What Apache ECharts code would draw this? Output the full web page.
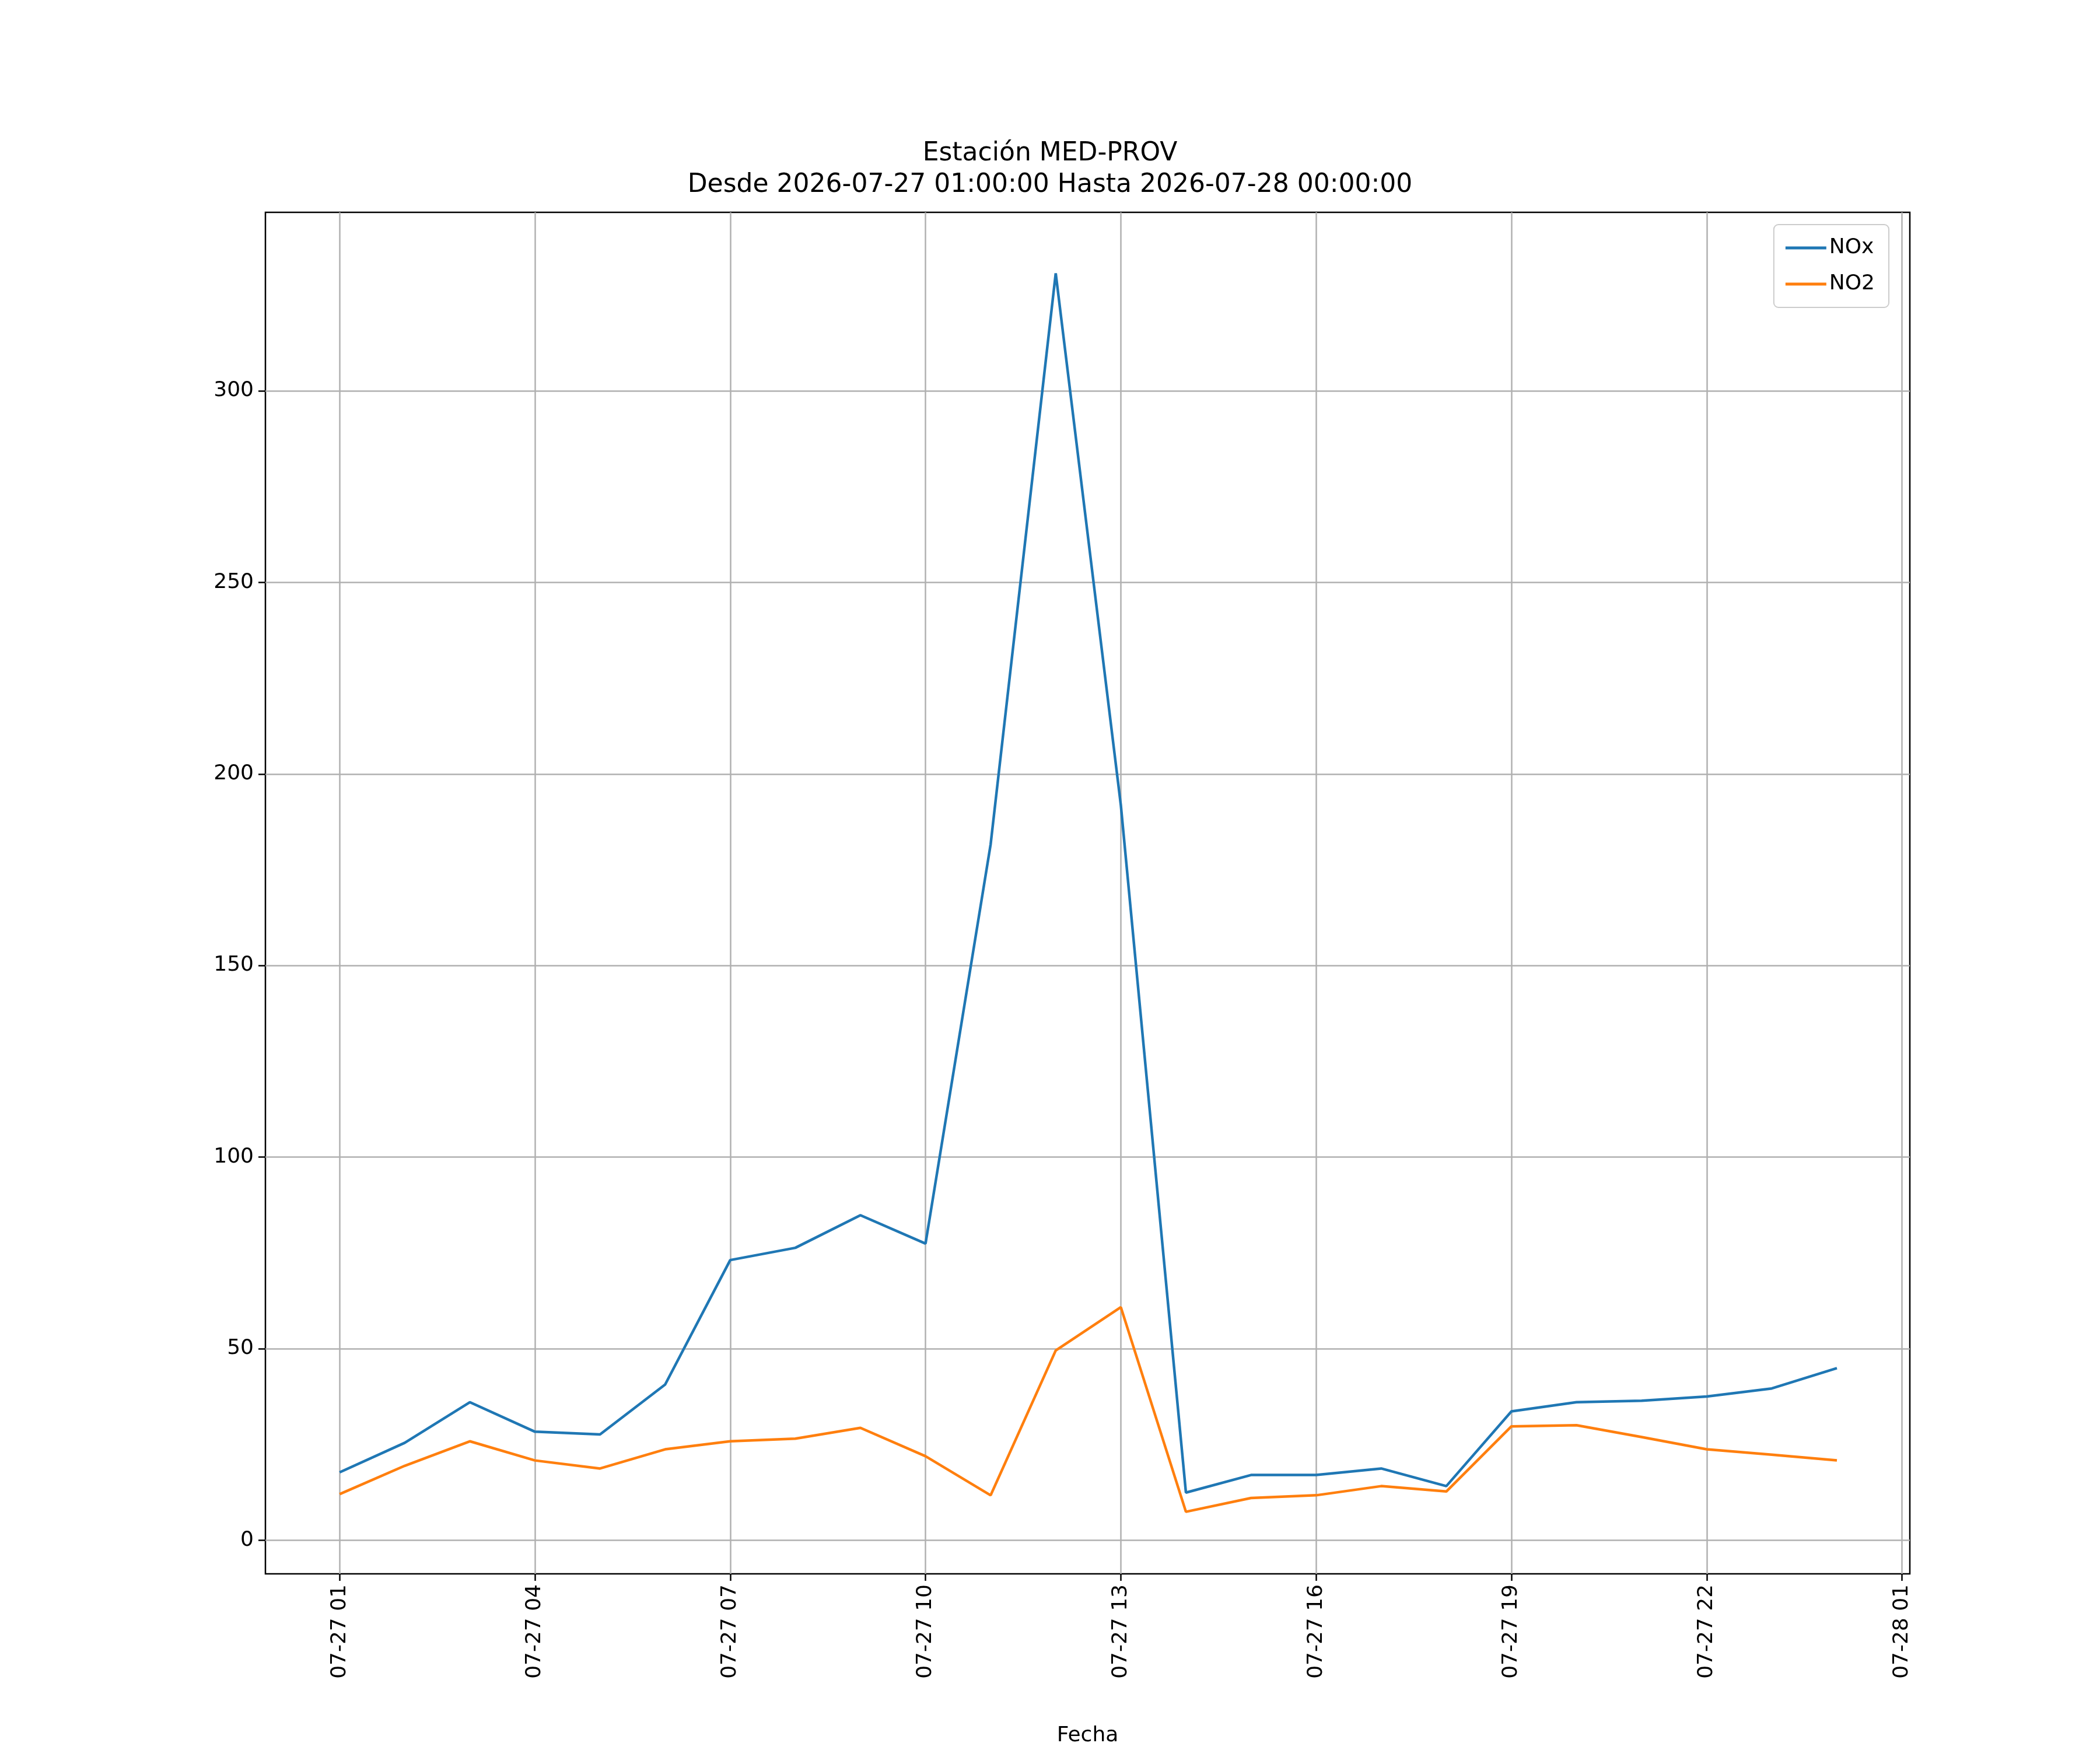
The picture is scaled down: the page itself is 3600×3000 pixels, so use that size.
<!DOCTYPE html>
<html><head><meta charset="utf-8">
<script src="https://cdn.jsdelivr.net/npm/echarts@6/dist/echarts.min.js"></script>
<style>html,body{margin:0;background:#fff}#c{width:3600px;height:3000px}</style>
</head><body><div id="c"></div>
<script>
const hours = [1,2,3,4,5,6,7,8,9,10,11,12,13,14,15,16,17,18,19,20,21,22,23,24];
const nox = [17.7,25.4,36,28.3,27.6,40.6,73.1,76.3,84.8,77.4,181.6,330.7,191.9,12.4,17,17,18.7,14.1,33.6,36,36.4,37.5,39.6,44.9];
const no2 = [12,19.4,25.8,20.8,18.7,23.7,25.8,26.5,29.3,21.9,11.7,49.5,60.8,7.4,11,11.7,14.1,12.7,29.7,30,26.9,23.7,22.3,20.8];
const xTicks = [1,4,7,10,13,16,19,22,25];
const yTicks = [0,50,100,150,200,250,300];
const pad = n => (n<10?'0':'')+n;
const fmtX = v => v<=24 ? '07-27 '+pad(v) : '07-28 '+pad(v-24);
const font = 'DejaVu Sans';
const chart = echarts.init(document.getElementById('c'));
chart.setOption({
  animation:false,
  textStyle:{fontFamily:font},
  title:{text:'Estación MED-PROV\nDesde 2026-07-27 01:00:00 Hasta 2026-07-28 00:00:00',left:'center',top:232,
    textStyle:{fontFamily:font,fontSize:44,fontWeight:'normal',color:'#000',lineHeight:54}},
  legend:{orient:'vertical',right:362,top:385,itemWidth:70,itemHeight:5,itemGap:26,padding:[22,24,22,20],
    borderColor:'#ccc',borderWidth:2,borderRadius:8,icon:'rect',
    textStyle:{fontFamily:font,fontSize:36,color:'#000'},data:['NOx','NO2']},
  grid:{left:455,right:326,top:364,bottom:302,show:true,borderColor:'#000',borderWidth:2.5},
  xAxis:{type:'value',min:-0.14,max:25.12,
    name:'Fecha',nameLocation:'middle',nameGap:260,nameTextStyle:{fontFamily:font,fontSize:36,color:'#000'},
    axisLine:{show:false,onZero:false},
    axisTick:{show:true,inside:false,customValues:xTicks,length:12,lineStyle:{color:'#000',width:2.5}},
    axisLabel:{customValues:xTicks,formatter:fmtX,rotate:90,fontSize:36,color:'#000',margin:18,fontFamily:font},
    splitLine:{show:true,lineStyle:{color:'#b0b0b0',width:2.5}}},
  yAxis:{type:'value',min:-8.8,max:346.6,
    axisLine:{show:false,onZero:false},
    axisTick:{show:true,inside:false,customValues:yTicks,length:12,lineStyle:{color:'#000',width:2.5}},
    axisLabel:{customValues:yTicks,fontSize:36,color:'#000',margin:20,fontFamily:font},
    splitLine:{show:true,lineStyle:{color:'#b0b0b0',width:2.5}}},
  series:[
    {name:'NOx',type:'line',data:hours.map((h,i)=>[h,nox[i]]),showSymbol:false,color:'#1f77b4',lineStyle:{width:4.5}},
    {name:'NO2',type:'line',data:hours.map((h,i)=>[h,no2[i]]),showSymbol:false,color:'#ff7f0e',lineStyle:{width:4.5}}
  ]
});
</script></body></html>
